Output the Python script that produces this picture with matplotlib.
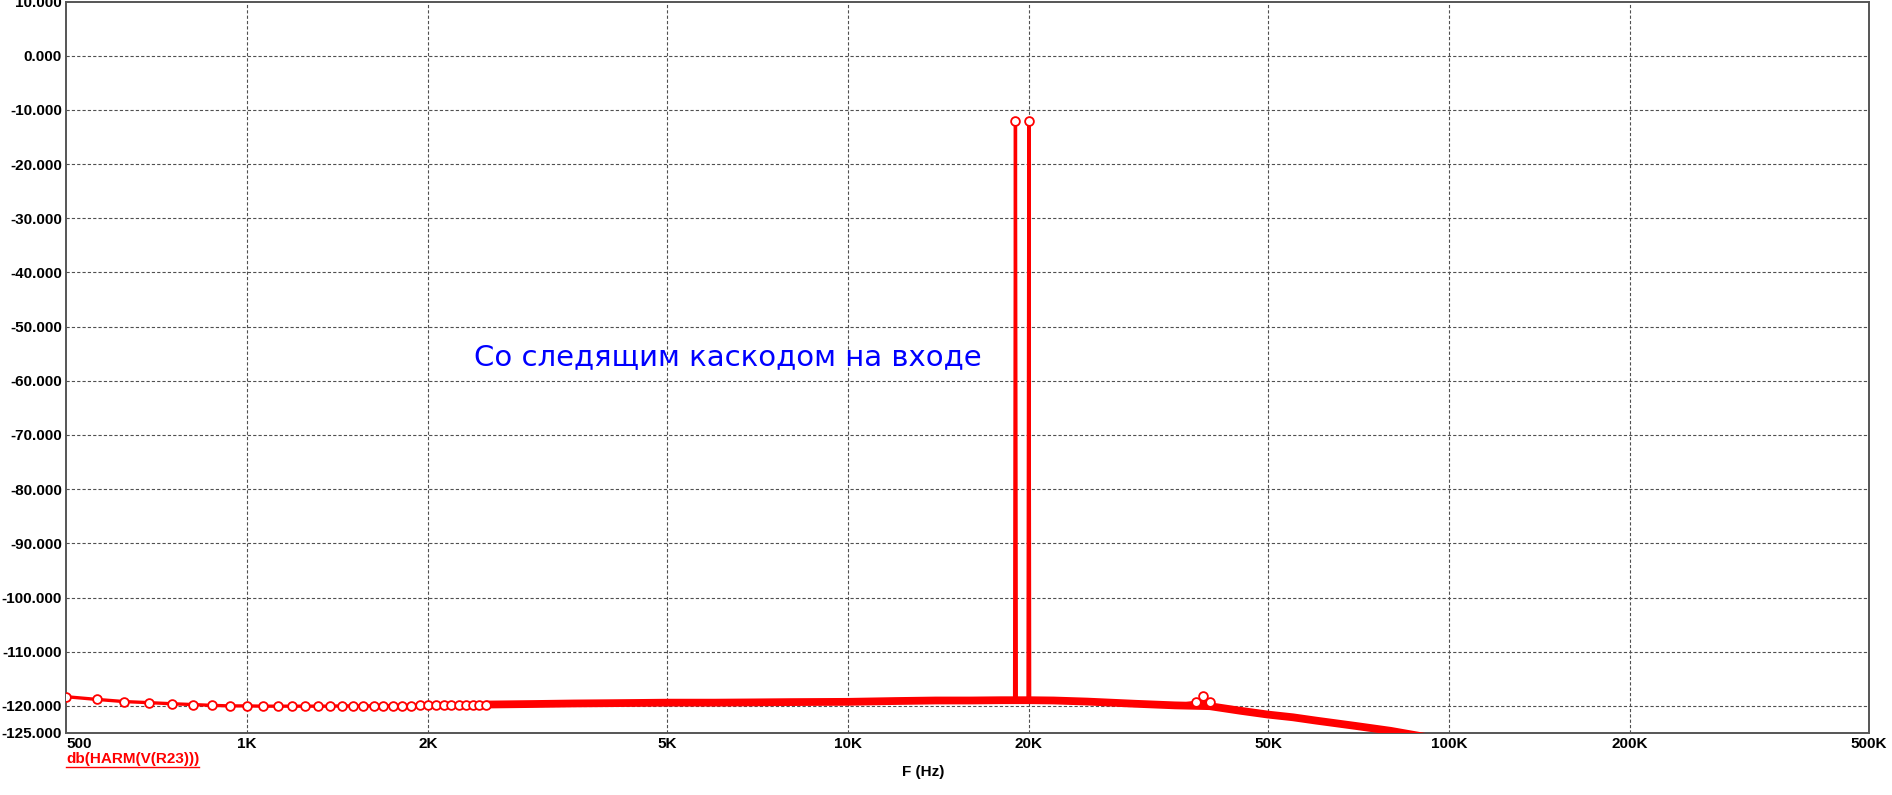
import numpy as np
import matplotlib
matplotlib.use("Agg")
import matplotlib.pyplot as plt
from matplotlib.lines import Line2D
from matplotlib.font_manager import FontProperties

# ---------------------------------------------------------------------------
# Spectrum data (FFT bins, 62.5 Hz resolution)
# ---------------------------------------------------------------------------
# low band: every bin is visible as a separate marker
floor_lo_f = [500, 562.5, 625, 687.5, 750, 812.5, 875, 937.5, 1000,
              1062.5, 1125, 1187.5, 1250, 1312.5, 1375, 1437.5, 1500,
              1562.5, 1625, 1687.5, 1750, 1812.5, 1875, 1937.5, 2000,
              2062.5, 2125, 2187.5, 2250, 2312.5, 2375, 2437.5, 2500]
floor_lo_db = [-118.3, -118.8, -119.2, -119.4, -119.6, -119.75, -119.9, -120.0, -120.0,
               -120.05, -120.05, -120.05, -120.05, -120.05, -120.05, -120.0, -120.0,
               -120.0, -120.0, -120.0, -119.95, -119.95, -119.95, -119.9, -119.9,
               -119.9, -119.85, -119.85, -119.8, -119.8, -119.8, -119.75, -119.75]

# upper band: bins merge into a solid band, sampled sparser
floor_hi_f = [3000, 3500, 4000, 4500, 5000, 6000, 7000, 8000, 10000, 12000,
              14000, 16000, 18000, 18937.5, 19062.5, 19937.5, 20062.5, 22000,
              25000, 30000, 35000, 40000, 45000, 50000, 55000, 60000, 70000,
              80000, 90000, 100000]
floor_hi_db = [-119.65, -119.55, -119.5, -119.45, -119.4, -119.4, -119.35, -119.3,
               -119.25, -119.1, -119.0, -119.0, -118.95, -118.95, -118.95, -118.95,
               -118.95, -119.0, -119.2, -119.6, -119.9, -120.05, -120.9, -121.6,
               -122.1, -122.7, -123.7, -124.6, -125.6, -126.5]

# two-tone test signal and intermodulation products
tones_f = [19000, 20000]
tones_db = [-12.0, -12.0]
imd_f = [38000, 39000, 40000]
imd_db = [-119.3, -118.2, -119.3]

y_ticks = [10, 0, -10, -20, -30, -40, -50, -60, -70, -80, -90, -100, -110, -120, -125]
x_ticks = [500, 1e3, 2e3, 5e3, 1e4, 2e4, 5e4, 1e5, 2e5, 5e5]
x_tick_labels = ["500", "1K", "2K", "5K", "10K", "20K", "50K", "100K", "200K", "500K"]

trace_label = "db(HARM(V(R23)))"
x_label = "F (Hz)"
note = "Со следящим каскодом на входе"

RED = "#ff0000"
GRID = "#505050"
LAB_FONT = FontProperties(family="Liberation Sans", weight="bold",
                          stretch="normal", size=11)

W, H = 1892, 795
fig = plt.figure(figsize=(W / 100, H / 100), dpi=100)
ax = fig.add_axes([66 / W, 62 / H, (1869 - 66) / W, (733 - 1.5) / H])

# full trace, sorted by frequency
all_f = np.array(floor_lo_f + floor_hi_f + tones_f + imd_f[::2])
all_db = np.array(floor_lo_db + floor_hi_db + tones_db + imd_db[::2])
order = np.argsort(all_f)
ax.plot(all_f[order], all_db[order], color=RED, lw=2.4, zorder=3)

# dense-bin region shows up as a thick band of overlapping markers
band_f = np.array([floor_lo_f[-1]] + floor_hi_f)
band_db = np.array([floor_lo_db[-1]] + floor_hi_db)
ax.plot(band_f, band_db, color=RED, lw=5.6, solid_capstyle="butt", zorder=3)

mk = dict(ls="none", marker="o", ms=6.3, mfc="white", mec=RED, mew=1.3, zorder=4)
ax.plot(floor_lo_f, floor_lo_db, **mk)
ax.plot(tones_f, tones_db, **mk)
ax.plot(imd_f, imd_db, **mk)

ax.set_xscale("log")
ax.set_xlim(500, 5e5)
ax.set_ylim(-125, 10)
ax.minorticks_off()
ax.set_xticks(x_ticks)
ax.set_xticklabels(x_tick_labels)
ax.set_yticks(y_ticks)
ax.set_yticklabels([f"{v:.3f}" for v in y_ticks])
ax.tick_params(length=0, pad=3)
for lab in ax.get_xticklabels() + ax.get_yticklabels():
    lab.set_fontproperties(LAB_FONT)
ax.get_xticklabels()[0].set_horizontalalignment("left")

for v in y_ticks:
    if -125 < v < 10:
        ax.axhline(v, color=GRID, lw=0.8, ls=(0, (2.9, 1.9)), zorder=1)
for v in x_ticks[1:-1]:
    ax.axvline(v, color=GRID, lw=0.8, ls=(0, (2.9, 1.9)), zorder=1)

for sp in ax.spines.values():
    sp.set_color("#555555")
    sp.set_linewidth(1.4)

fig.text(923 / W, 1 - 772 / H, x_label, ha="center", va="center",
         fontproperties=LAB_FONT)

leg = fig.text(66 / W, 1 - 759 / H, trace_label, ha="left", va="center",
               fontproperties=LAB_FONT, color=RED)
fig.text(728 / W, 1 - 357 / H, note, ha="center", va="center",
         family="DejaVu Sans", fontsize=21, color="#0000ff")

# underline the trace name
fig.canvas.draw()
bb = leg.get_window_extent()
fig.add_artist(Line2D([bb.x0 / W, bb.x1 / W], [(bb.y0 - 1) / H, (bb.y0 - 1) / H],
                      transform=fig.transFigure, color=RED, lw=1.0))

fig.savefig("out.png", dpi=100)
